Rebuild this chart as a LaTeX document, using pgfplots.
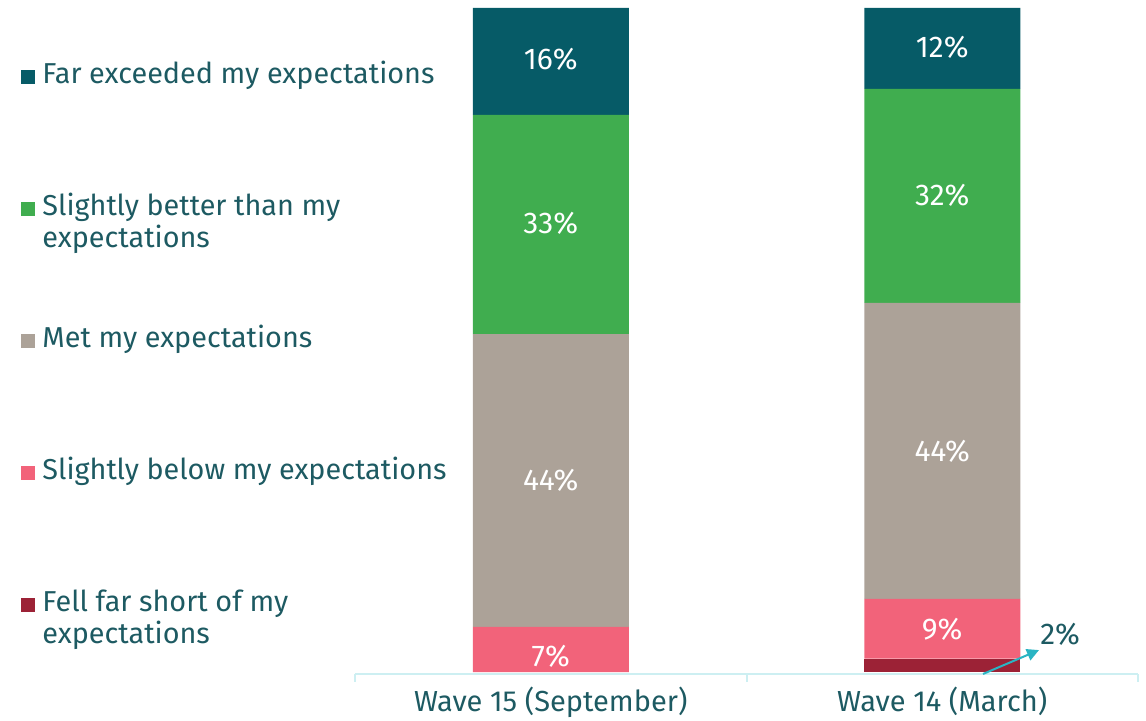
\documentclass[border=0pt]{standalone}
\usepackage{fontspec}
\setmainfont{Fira Sans}
\usepackage{pgfplots}
\pgfplotsset{compat=1.18}
\usetikzlibrary{arrows.meta}

\definecolor{farexc}{HTML}{065B67}
\definecolor{slbetter}{HTML}{40AD4F}
\definecolor{met}{HTML}{ACA298}
\definecolor{slbelow}{HTML}{F2637A}
\definecolor{fellshort}{HTML}{9C2236}
\definecolor{txt}{HTML}{1D5A62}
\definecolor{axisline}{HTML}{CDEFF2}
\definecolor{arrowc}{HTML}{2AB4C3}

% 1 px of the reference = 0.5pt
\pgfplotsset{
  wave/.style={
    scale only axis, width=391.5pt, height=333pt,
    at={(177.5pt,23.5pt)}, anchor=south west,
    xmin=-0.5, xmax=1.5, ymin=-0.3, ymax=100,
    clip=false,
  },
}

\begin{document}
\begin{tikzpicture}
\begin{axis}[wave,
    ybar stacked, bar width=78pt,
    axis y line=none, axis x line=bottom,
    x axis line style={-, draw=axisline, line width=1pt},
    xtick={0,1},
    xticklabels={Wave 15 (September), Wave 14 (March)},
    major tick length=0pt,
    minor xtick={-0.5,0.5,1.5},
    minor tick length=4pt, xtick align=outside,
    minor tick style={draw=axisline, line width=1pt},
    xticklabel style={text=txt, font=\fontsize{14.5}{16}\selectfont, yshift=-3pt},
]
\addplot[fill=fellshort, draw=none] coordinates {(0,0) (1,2)};
\addplot[fill=slbelow, draw=none] coordinates {(0,6.8) (1,9)};
\addplot[fill=met, draw=none] coordinates {(0,44.1) (1,44.6)};
\addplot[fill=slbetter, draw=none] coordinates {(0,33.0) (1,32.2)};
\addplot[fill=farexc, draw=none] coordinates {(0,16.1) (1,12.2)};
\end{axis}

\begin{axis}[wave, hide axis]
\addplot[draw=none, nodes near coords, point meta=explicit symbolic,
  every node near coord/.append style={anchor=center, text=white,
    font=\fontsize{15}{16}\selectfont}]
  coordinates {
    (0,2.4) [7\%] (0,28.9) [44\%] (0,67.6) [33\%] (0,92.3) [16\%]
    (1,6.5) [9\%] (1,33.3) [44\%] (1,71.8) [32\%] (1,94.1) [12\%]
  };
\addplot[draw=none, nodes near coords, point meta=explicit symbolic,
  every node near coord/.append style={anchor=center, text=txt,
    font=\fontsize{15}{16}\selectfont}]
  coordinates {(1.301,5.7) [2\%]};
\draw[arrowc, line width=1pt, -{Triangle[length=6pt,width=6pt]}]
  (axis cs:1.104,-0.3) -- (axis cs:1.247,3.3);
\end{axis}

% legend, in reference pixel coordinates
\begin{scope}[x=0.5pt, y=-0.5pt, shift={(0,360.5pt)},
    every node/.style={anchor=base west, inner sep=0pt, text=txt,
      font=\fontsize{14.4}{16}\selectfont}]
  \fill[farexc]    (21,70)  rectangle (35,84);
  \node at (42,84)  {Far exceeded my expectations};
  \fill[slbetter]  (21,202) rectangle (35,216);
  \node at (42,216) {Slightly better than my};
  \node at (42,248) {expectations};
  \fill[met]       (21,334) rectangle (35,348);
  \node at (42,348) {Met my expectations};
  \fill[slbelow]   (21,466) rectangle (35,480);
  \node at (42,480) {Slightly below my expectations};
  \fill[fellshort] (21,598) rectangle (35,612);
  \node at (42,612) {Fell far short of my};
  \node at (42,644) {expectations};
\end{scope}

\pgfresetboundingbox
\path[use as bounding box] (0,0) rectangle (573pt,360.5pt);
\end{tikzpicture}
\end{document}
